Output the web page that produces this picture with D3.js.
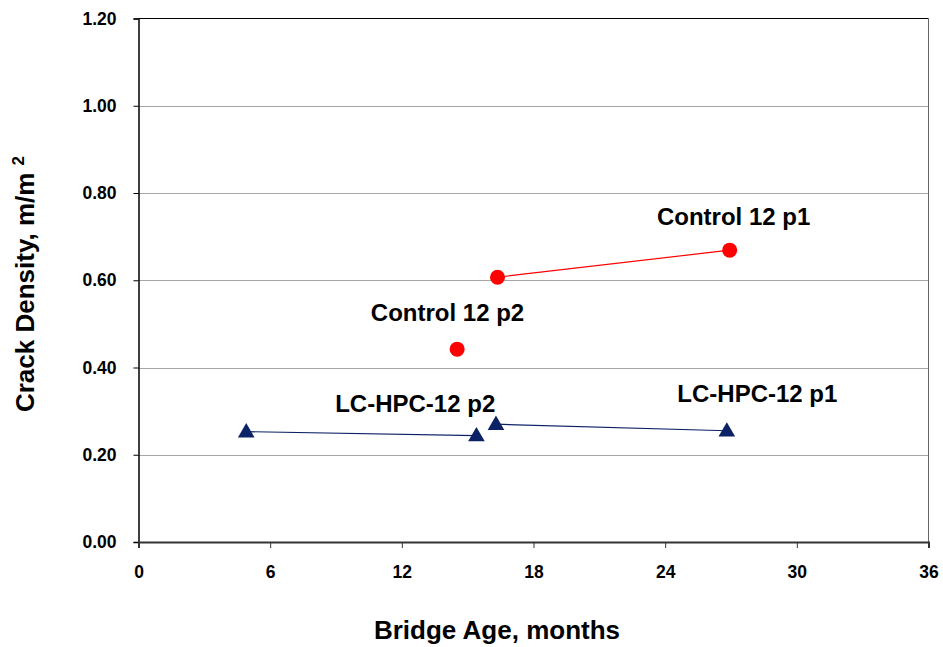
<!DOCTYPE html>
<html>
<head>
<meta charset="utf-8">
<script src="https://cdn.jsdelivr.net/npm/d3@7"></script>
<style>
  html, body { margin: 0; padding: 0; background: #fff; }
  svg { display: block; font-family: Arial, "Liberation Sans", sans-serif; }
</style>
</head>
<body>
<svg id="chart" width="943" height="647"></svg>
<script>
// ---- data ----
const controlP1Age = [16.36, 26.94];
const controlP1Density = [0.607, 0.669];
const controlP2Age = [14.52];
const controlP2Density = [0.442];
const lchpcP2Age = [4.91, 15.4];
const lchpcP2Density = [0.253, 0.244];
const lchpcP1Age = [16.29, 26.81];
const lchpcP1Density = [0.270, 0.255];

const xTicks = [0, 6, 12, 18, 24, 30, 36];
const yTicks = [0, 0.2, 0.4, 0.6, 0.8, 1.0, 1.2];

const labelTexts = ["Control 12 p1", "Control 12 p2", "LC-HPC-12 p2", "LC-HPC-12 p1"];
const labelAge = [27.12, 14.08, 12.61, 28.2];
const labelDensity = [0.726, 0.506, 0.298, 0.3206];

// ---- layout ----
const svg = d3.select("#chart");
const pLeft = 138.5, pRight = 928.5, pTop = 18.5, pBottom = 542;
const x = d3.scaleLinear().domain([0, 36]).range([pLeft, pRight]);
const y = d3.scaleLinear().domain([0, 1.2]).range([pBottom, pTop]);

// gridlines
svg.append("g").selectAll("line").data(yTicks.filter(d => d > 0 && d < 1.2)).join("line")
  .attr("x1", pLeft).attr("x2", pRight)
  .attr("y1", d => Math.round(y(d)) + 0.5).attr("y2", d => Math.round(y(d)) + 0.5)
  .attr("stroke", "#a6a6a6").attr("stroke-width", 1);

// plot frame: top and right
svg.append("line").attr("x1", pLeft).attr("x2", pRight).attr("y1", pTop).attr("y2", pTop)
  .attr("stroke", "#000").attr("stroke-width", 1);
svg.append("line").attr("x1", pRight).attr("x2", pRight).attr("y1", pTop).attr("y2", pBottom)
  .attr("stroke", "#666").attr("stroke-width", 1);

// y axis
const yAxis = d3.axisLeft(y).tickValues(yTicks).tickFormat(d3.format(".2f")).tickSize(5).tickPadding(17);
const gy = svg.append("g").attr("transform", `translate(${pLeft},0)`).call(yAxis);
gy.select(".domain").attr("stroke", "#000").attr("stroke-width", 1.5);
gy.selectAll(".tick line").attr("stroke", "#000");
gy.selectAll("text").attr("font-size", 17.5).attr("font-weight", "bold").attr("fill", "#000")
  .attr("font-family", "Arial, 'Liberation Sans', sans-serif");

// x axis
const xAxis = d3.axisBottom(x).tickValues(xTicks).tickFormat(d3.format("d")).tickSize(6).tickPadding(18);
const gx = svg.append("g").attr("transform", `translate(0,${pBottom})`).call(xAxis);
gx.select(".domain").attr("stroke", "#333").attr("stroke-width", 2);
gx.selectAll(".tick line").attr("stroke", "#333");
gx.selectAll("text").attr("font-size", 17.5).attr("font-weight", "bold").attr("fill", "#000")
  .attr("font-family", "Arial, 'Liberation Sans', sans-serif");

// axis titles
svg.append("text").attr("x", 497).attr("y", 639).attr("text-anchor", "middle")
  .attr("font-size", 26).attr("font-weight", "bold").text("Bridge Age, months");
const yt = svg.append("text").attr("transform", "translate(34,284) rotate(-90)")
  .attr("text-anchor", "middle").attr("font-size", 26).attr("font-weight", "bold");
yt.append("tspan").text("Crack Density, m/m ");
yt.append("tspan").attr("font-size", 17).attr("dy", -10).text("2");

// series
const navy = "#0c2266";
const red = "#ff0000";
function zip(a, b) { return a.map((v, i) => [v, b[i]]); }
const line = d3.line().x(d => x(d[0])).y(d => y(d[1]));

const controlP1 = zip(controlP1Age, controlP1Density);
const controlP2 = zip(controlP2Age, controlP2Density);
const lchpcP2 = zip(lchpcP2Age, lchpcP2Density);
const lchpcP1 = zip(lchpcP1Age, lchpcP1Density);

[lchpcP2, lchpcP1].forEach(s => {
  svg.append("path").datum(s).attr("d", line).attr("fill", "none").attr("stroke", navy).attr("stroke-width", 1.2);
});
[controlP1].forEach(s => {
  svg.append("path").datum(s).attr("d", line).attr("fill", "none").attr("stroke", red).attr("stroke-width", 1.2);
});

const tri = d3.symbol().type(d3.symbolTriangle).size(120);
[lchpcP2, lchpcP1].forEach(s => {
  svg.append("g").selectAll("path").data(s).join("path")
    .attr("d", tri).attr("transform", d => `translate(${x(d[0])},${y(d[1]) + 1})`).attr("fill", navy);
});
[controlP1, controlP2].forEach(s => {
  svg.append("g").selectAll("circle").data(s).join("circle")
    .attr("cx", d => x(d[0])).attr("cy", d => y(d[1])).attr("r", 7.5).attr("fill", red);
});

// labels
svg.append("g").selectAll("text").data(labelTexts).join("text")
  .attr("x", (d, i) => x(labelAge[i])).attr("y", (d, i) => y(labelDensity[i]))
  .attr("text-anchor", "middle").attr("font-size", 24).attr("font-weight", "bold").attr("fill", "#000")
  .text(d => d);
</script>
</body>
</html>
